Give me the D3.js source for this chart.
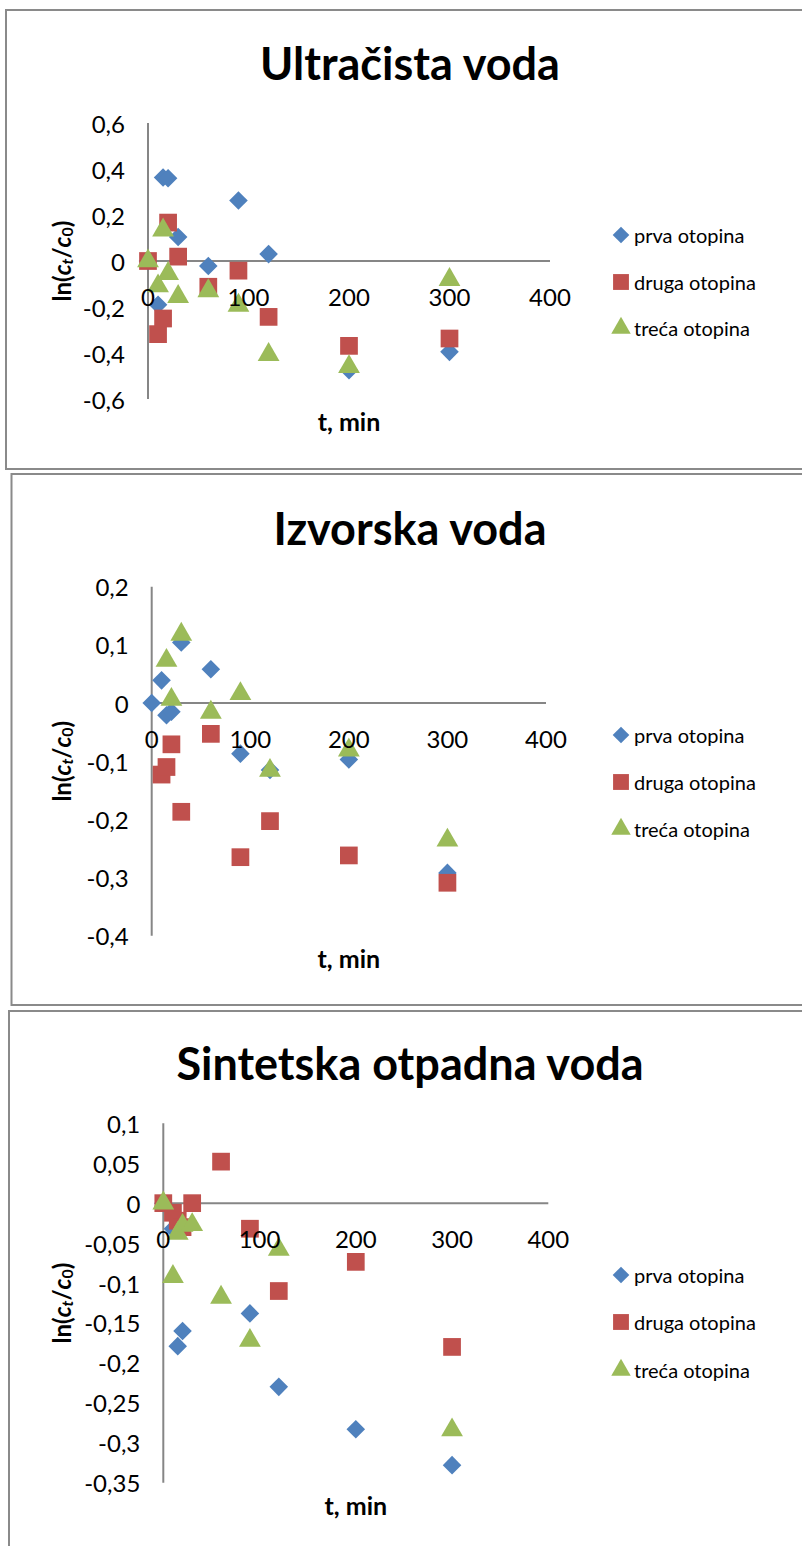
<!DOCTYPE html>
<html>
<head>
<meta charset="utf-8">
<script src="https://cdn.jsdelivr.net/npm/d3@7"></script>
<style>
  html, body { margin: 0; padding: 0; background: #fff; }
  svg { display: block; }
  text { font-family: Lato, "Open Sans", sans-serif; fill: #000; }
</style>
</head>
<body>
<svg id="chart" width="802" height="1546"></svg>
<script>
// Sampling times (min)
const times = [0, 10, 15, 20, 30, 60, 90, 120, 200, 300];
const seriesNames = ["prva otopina", "druga otopina", "treća otopina"];
const seriesColors = ["#4F81BD", "#C0504D", "#9BBB59"];
const xTicks = [0, 100, 200, 300, 400];

// Ultračista voda — ln(ct/c0)
const ultraPrva  = [0, -0.19, 0.363, 0.36, 0.104, -0.022, 0.263, 0.03, -0.475, -0.395];
const ultraDruga = [0, -0.318, -0.25, 0.167, 0.019, -0.112, -0.042, -0.243, -0.369, -0.337];
const ultraTreca = [0, -0.109, 0.134, -0.055, -0.155, -0.13, -0.193, -0.407, -0.46, -0.081];
const ultraYTicks = [0.6, 0.4, 0.2, 0, -0.2, -0.4, -0.6];

// Izvorska voda
const izvorPrva  = [0, 0.039, -0.021, -0.015, 0.104, 0.058, -0.087, -0.115, -0.097, -0.292];
const izvorDruga = [null, -0.123, -0.11, -0.071, -0.187, -0.053, -0.265, -0.203, -0.262, -0.309];
const izvorTreca = [null, null, 0.073, 0.006, 0.118, -0.016, 0.016, -0.116, -0.081, -0.236];
const izvorYTicks = [0.2, 0.1, 0, -0.1, -0.2, -0.3, -0.4];

// Sintetska otpadna voda
const sintPrva  = [0, -0.032, -0.179, -0.16, null, null, -0.138, -0.23, -0.283, -0.328];
const sintDruga = [0, -0.012, -0.022, -0.03, 0, 0.052, -0.032, -0.11, -0.0735, -0.18];
const sintTreca = [0, -0.092, -0.038, -0.028, -0.027, -0.118, -0.172, -0.058, null, -0.284];
const sintYTicks = [0.1, 0.05, 0, -0.05, -0.1, -0.15, -0.2, -0.25, -0.3, -0.35];

const panels = [
  { title: "Ultračista voda", frame: [6, 10, 820, 459], titleY: 63,
    xRange: [148, 550], yRange: [399, 123], yDomain: [-0.6, 0.6],
    yTicks: ultraYTicks, series: [ultraPrva, ultraDruga, ultraTreca],
    xTitleY: 421, legendY: [235, 282, 328] },
  { title: "Izvorska voda", frame: [11.5, 474, 820, 531], titleY: 528,
    xRange: [151.7, 546], yRange: [935.7, 586.7], yDomain: [-0.4, 0.2],
    yTicks: izvorYTicks, series: [izvorPrva, izvorDruga, izvorTreca],
    xTitleY: 958, legendY: [735, 782, 829] },
  { title: "Sintetska otpadna voda", frame: [9, 1011, 820, 560], titleY: 1063,
    xRange: [163.3, 548.3], yRange: [1482.7, 1123.3], yDomain: [-0.35, 0.1],
    yTicks: sintYTicks, series: [sintPrva, sintDruga, sintTreca],
    xTitleY: 1505, legendY: [1275, 1322, 1370] }
];

const svg = d3.select("#chart");
const fmt = v => String(+v.toFixed(2)).replace(".", ",");

const symbolTypes = [d3.symbolDiamond2, d3.symbolSquare2, d3.symbolTriangle2];
const symbolSizes = [220, 400, 340];
function markerPath(i, k = 1) {
  return d3.symbol().type(symbolTypes[i]).size(symbolSizes[i] * k)();
}

panels.forEach(p => {
  const g = svg.append("g");
  const [fx, fy, fw, fh] = p.frame;
  g.append("rect")
    .attr("x", fx).attr("y", fy).attr("width", fw).attr("height", fh)
    .attr("fill", "#fff").attr("stroke", "#8a8a8a").attr("stroke-width", 2);

  const x = d3.scaleLinear().domain([0, 400]).range(p.xRange);
  const y = d3.scaleLinear().domain(p.yDomain).range(p.yRange);

  // Title
  g.append("text").attr("x", 410).attr("y", p.titleY)
    .attr("text-anchor", "middle").attr("dominant-baseline", "central")
    .attr("font-size", 45).attr("font-weight", 700)
    .text(p.title);

  // Axis lines (crossing at the origin)
  g.append("line")
    .attr("x1", x(0)).attr("x2", x(0)).attr("y1", y(p.yDomain[1])).attr("y2", y(p.yDomain[0]))
    .attr("stroke", "#868686").attr("stroke-width", 2);
  g.append("line")
    .attr("x1", x(0)).attr("x2", x(400)).attr("y1", y(0)).attr("y2", y(0))
    .attr("stroke", "#868686").attr("stroke-width", 2);

  // Markers
  p.series.forEach((vals, si) => {
    const pts = times.map((t, i) => ({ t, v: vals[i] })).filter(d => d.v !== null);
    g.append("g").selectAll("path").data(pts).join("path")
      .attr("d", markerPath(si))
      .attr("transform", d => `translate(${x(d.t)},${y(d.v)})`)
      .attr("fill", seriesColors[si]);
  });

  // Y tick labels
  g.append("g").selectAll("text").data(p.yTicks).join("text")
    .attr("x", x(0) - 23).attr("y", d => y(d))
    .attr("text-anchor", "end").attr("dominant-baseline", "central")
    .attr("font-size", 24).text(fmt);

  // X tick labels
  g.append("g").selectAll("text").data(xTicks).join("text")
    .attr("x", d => x(d)).attr("y", y(0) + 35)
    .attr("text-anchor", "middle").attr("dominant-baseline", "central")
    .attr("font-size", 24).text(d => d);

  // X axis title
  g.append("text").attr("x", (x(0) + x(400)) / 2).attr("y", p.xTitleY)
    .attr("text-anchor", "middle").attr("dominant-baseline", "central")
    .attr("font-size", 25).attr("font-weight", 700).text("t, min");

  // Y axis title: ln(ct/c0)
  const yt = g.append("text")
    .attr("transform", `translate(61,${(p.yRange[0] + p.yRange[1]) / 2}) rotate(-90)`)
    .attr("text-anchor", "middle").attr("dominant-baseline", "central")
    .attr("font-size", 24).attr("font-weight", 700);
  yt.append("tspan").text("ln(");
  yt.append("tspan").attr("font-style", "italic").text("c");
  yt.append("tspan").attr("font-style", "italic").attr("font-size", 16).attr("dy", 5).text("t");
  yt.append("tspan").attr("dy", -5).text("/");
  yt.append("tspan").attr("font-style", "italic").text("c");
  yt.append("tspan").attr("font-size", 16).attr("dy", 5).text("0");
  yt.append("tspan").attr("dy", -5).text(")");

  // Legend
  const lg = g.append("g");
  seriesNames.forEach((name, si) => {
    const ly = p.legendY[si];
    lg.append("path").attr("d", markerPath(si, 0.8))
      .attr("transform", `translate(621,${ly})`).attr("fill", seriesColors[si]);
    lg.append("text").attr("x", 634).attr("y", ly)
      .attr("dominant-baseline", "central").attr("font-size", 20).text(name);
  });
});
</script>
</body>
</html>
